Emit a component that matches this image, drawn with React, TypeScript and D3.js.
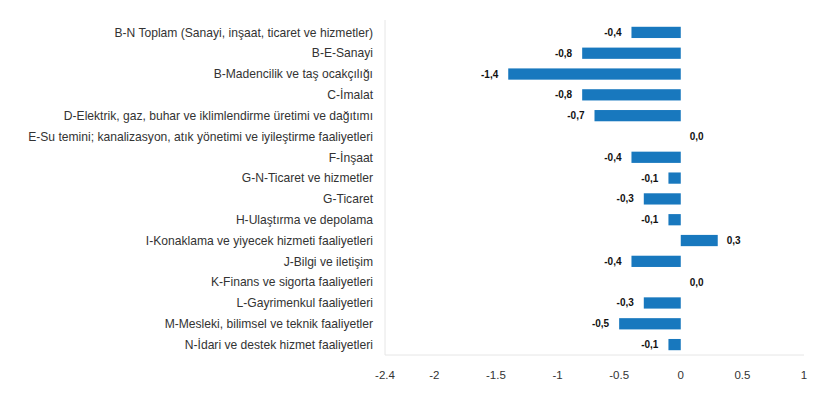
import { useEffect, useRef } from 'react';
import * as d3 from 'd3';

const WIDTH = 830;
const HEIGHT = 398;

const categories = [
  'B-N Toplam (Sanayi, inşaat, ticaret ve hizmetler)',
  'B-E-Sanayi',
  'B-Madencilik ve taş ocakçılığı',
  'C-İmalat',
  'D-Elektrik, gaz, buhar ve iklimlendirme üretimi ve dağıtımı',
  'E-Su temini; kanalizasyon, atık yönetimi ve iyileştirme faaliyetleri',
  'F-İnşaat',
  'G-N-Ticaret ve hizmetler',
  'G-Ticaret',
  'H-Ulaştırma ve depolama',
  'I-Konaklama ve yiyecek hizmeti faaliyetleri',
  'J-Bilgi ve iletişim',
  'K-Finans ve sigorta faaliyetleri',
  'L-Gayrimenkul faaliyetleri',
  'M-Mesleki, bilimsel ve teknik faaliyetler',
  'N-İdari ve destek hizmet faaliyetleri',
];

const values = [-0.4, -0.8, -1.4, -0.8, -0.7, 0.0, -0.4, -0.1, -0.3, -0.1, 0.3, -0.4, 0.0, -0.3, -0.5, -0.1];

const xTicks = [-2.4, -2, -1.5, -1, -0.5, 0, 0.5, 1];

const margin = { top: 22, right: 26, bottom: 43, left: 385 };
const BAR_COLOR = '#1878be';
const FONT = '"Liberation Sans", Arial, Helvetica, sans-serif';

function drawChart(svgEl: SVGSVGElement) {
  const svg = d3.select(svgEl);
  svg.selectAll('*').remove();

  const x = d3.scaleLinear()
    .domain([-2.4, 1])
    .range([margin.left, WIDTH - margin.right]);

  const y = d3.scaleBand<string>()
    .domain(categories)
    .range([margin.top, HEIGHT - margin.bottom])
    .paddingInner(0.46)
    .paddingOuter(0.23);

  const plotBottom = HEIGHT - margin.bottom;

  // frame lines (left + bottom)
  svg.append('line')
    .attr('x1', x(-2.4)).attr('x2', x(-2.4))
    .attr('y1', margin.top - 2).attr('y2', plotBottom)
    .attr('stroke', '#e6e6e6');
  svg.append('line')
    .attr('x1', x(-2.4)).attr('x2', x(1))
    .attr('y1', plotBottom).attr('y2', plotBottom)
    .attr('stroke', '#e6e6e6');

  // category labels
  svg.append('g')
    .selectAll('text')
    .data(categories)
    .join('text')
    .attr('x', margin.left - 12)
    .attr('y', (d) => (y(d) ?? 0) + y.bandwidth() / 2)
    .attr('dy', '0.35em')
    .attr('text-anchor', 'end')
    .attr('font-family', FONT)
    .attr('font-size', 12.1)
    .attr('fill', '#333')
    .text((d) => d);

  const rows = categories.map((c, i) => ({ c, v: values[i] }));

  svg.append('g')
    .selectAll('rect')
    .data(rows.filter((r) => r.v !== 0))
    .join('rect')
    .attr('x', (d) => x(Math.min(0, d.v)))
    .attr('y', (d) => y(d.c) ?? 0)
    .attr('width', (d) => Math.abs(x(d.v) - x(0)))
    .attr('height', y.bandwidth())
    .attr('fill', BAR_COLOR);

  // value labels
  const fmt = (v: number) => v.toFixed(1).replace('.', ',');
  svg.append('g')
    .selectAll('text')
    .data(rows)
    .join('text')
    .attr('x', (d) => (d.v < 0 ? x(d.v) - 10 : x(d.v) + 9))
    .attr('y', (d) => (y(d.c) ?? 0) + y.bandwidth() / 2)
    .attr('dy', '0.35em')
    .attr('text-anchor', (d) => (d.v < 0 ? 'end' : 'start'))
    .attr('font-family', FONT)
    .attr('font-size', 10)
    .attr('font-weight', 'bold')
    .attr('fill', '#111')
    .text((d) => fmt(d.v));

  // x tick labels
  svg.append('g')
    .selectAll('text')
    .data(xTicks)
    .join('text')
    .attr('x', (d) => x(d))
    .attr('y', plotBottom + 20)
    .attr('dy', '0.35em')
    .attr('text-anchor', 'middle')
    .attr('font-family', FONT)
    .attr('font-size', 11.5)
    .attr('fill', '#333')
    .text((d) => String(d));
}

export default function App() {
  const svgRef = useRef<SVGSVGElement>(null);

  useEffect(() => {
    if (!svgRef.current) return;
    drawChart(svgRef.current);
  }, []);

  return (
    <div style={{ position: 'absolute', left: 0, top: 0, width: WIDTH, height: HEIGHT, background: '#fff' }}>
      <svg ref={svgRef} width={WIDTH} height={HEIGHT} style={{ display: 'block' }} />
    </div>
  );
}
